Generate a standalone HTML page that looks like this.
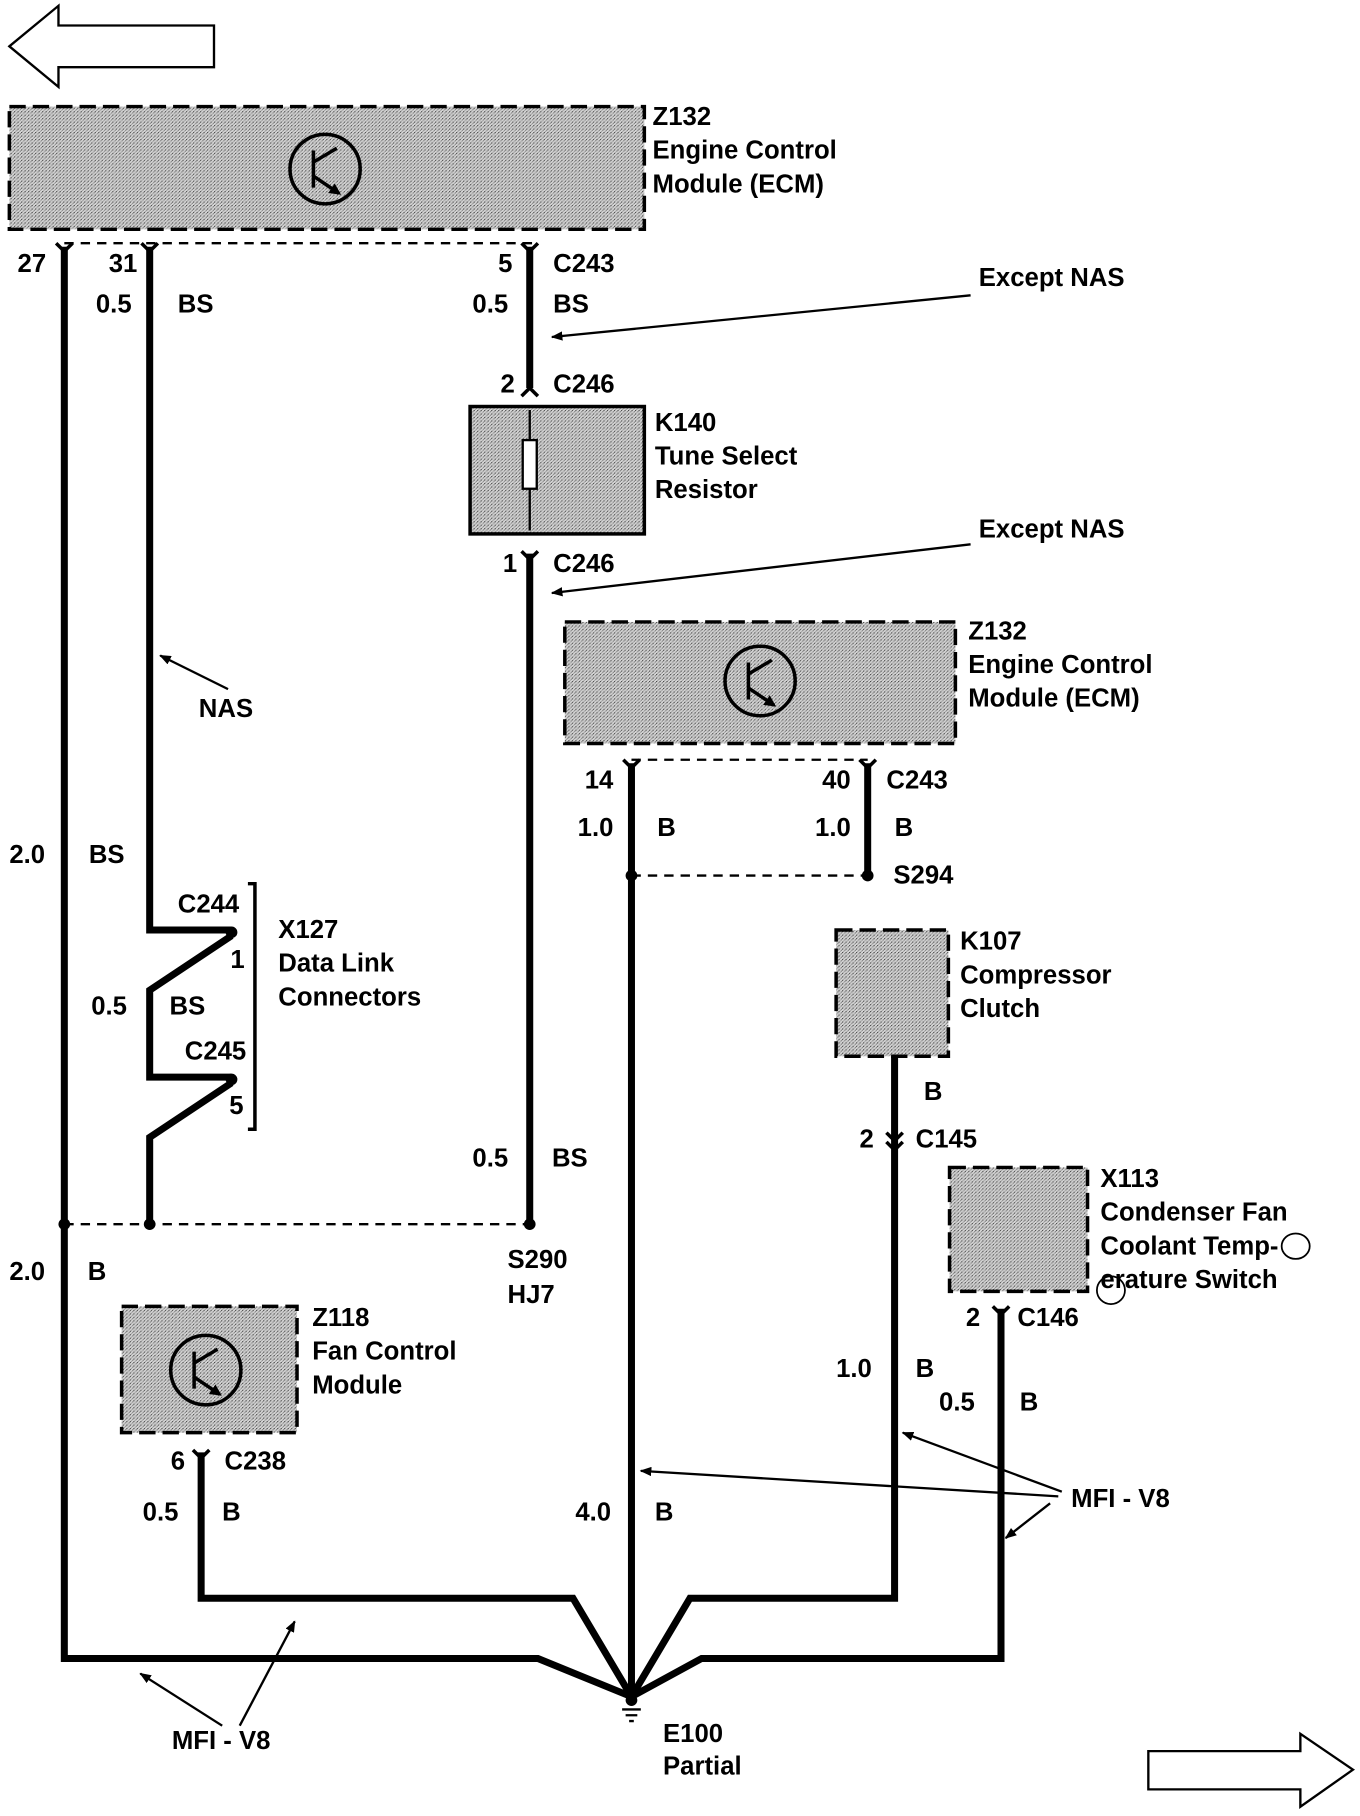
<!DOCTYPE html>
<html><head><meta charset="utf-8"><style>
html,body{margin:0;padding:0;background:#fff;}
svg{display:block;}
text{font-family:"Liberation Sans",sans-serif;font-weight:bold;font-size:22px;fill:#000;}
</style></head><body>
<svg width="1360" height="1816" viewBox="0 0 1163 1568" preserveAspectRatio="none" xmlns="http://www.w3.org/2000/svg">
<defs>
<pattern id="st" width="3" height="3" patternUnits="userSpaceOnUse"><rect width="3" height="3" fill="#d6d6d6"/><rect width="1" height="1" fill="#444"/><rect x="2" y="1" width="1" height="1" fill="#777"/><rect x="1" y="2" width="1" height="1" fill="#999"/></pattern>
<marker id="ah" markerWidth="10" markerHeight="8" refX="9" refY="4" orient="auto" markerUnits="userSpaceOnUse"><path d="M0,0 L10,4 L0,8 Z" fill="#000"/></marker>
<marker id="ta" markerWidth="10" markerHeight="10" refX="8" refY="5" orient="auto" markerUnits="userSpaceOnUse"><path d="M0,0 L10,5 L0,10 Z" fill="#000"/></marker>
</defs>
<path d="M8,40 L50,5 L50,22 L183,22 L183,58 L50,58 L50,75 Z" fill="#fff" stroke="#000" stroke-width="2"/>
<path d="M1157,1528 L1112,1497 L1112,1512 L982,1512 L982,1545 L1112,1545 L1112,1560 Z" fill="#fff" stroke="#000" stroke-width="2"/>

<rect x="8" y="92" width="543" height="106" fill="url(#st)" stroke="#000" stroke-width="3" stroke-dasharray="14,6"/>
<g fill="none" stroke="#000" stroke-width="3"><circle cx="278" cy="146" r="30"/><path d="M268,130 L268,162 M268,140 L288,128 M268,152 L290,167" marker-end="url(#ta)"/></g>
<text x="558" y="108">Z132</text><text x="558" y="137">Engine Control</text><text x="558" y="166">Module (ECM)</text>

<g stroke="#000" stroke-width="2" stroke-dasharray="8,6" fill="none">
<path d="M55,210 L455,210"/><path d="M540,656 L742,656"/><path d="M540,756 L742,756"/><path d="M55,1057 L453,1057"/>
</g>

<g stroke="#000" stroke-width="6" fill="none" stroke-linejoin="miter">
<path d="M55,213 L55,1432 L460,1432 L540,1465"/>
<path d="M128,213 L128,803 L198,803"/>
<path d="M198,808 L128,855 L128,930 L198,930"/>
<path d="M198,935 L128,982 L128,1057"/>
<path d="M453,213 L453,335"/>
<path d="M453,478 L453,1057"/>
<path d="M540,659 L540,1465"/>
<path d="M742,659 L742,756"/>
<path d="M172,1254 L172,1380 L490,1380 L540,1465"/>
<path d="M765,912 L765,1380 L590,1380 L540,1465"/>
<path d="M856,1130 L856,1432 L600,1432 L540,1465"/>
</g>
<g stroke="#000" stroke-width="3" fill="none">
<path d="M48,210 L55,217 L62,210"/><path d="M121,210 L128,217 L135,210"/><path d="M446,210 L453,217 L460,210"/>
<path d="M533,656 L540,663 L547,656"/><path d="M735,656 L742,663 L749,656"/>
<path d="M446,342 L453,335 L460,342"/><path d="M446,476 L453,483 L460,476"/>
<path d="M165,1252 L172,1259 L179,1252"/><path d="M849,1128 L856,1135 L863,1128"/>
<path d="M758,978 L765,985 L772,978 M758,986 L765,993 L772,986"/>
</g>
<g fill="#000"><circle cx="55" cy="1057" r="5"/><circle cx="128" cy="1057" r="5"/><circle cx="453" cy="1057" r="5"/><circle cx="540" cy="756" r="5"/><circle cx="742" cy="756" r="5"/><circle cx="198" cy="805" r="5"/><circle cx="198" cy="932" r="5"/><circle cx="540" cy="1468" r="5"/></g>
<g stroke="#000" stroke-width="2"><path d="M532,1476 L548,1476 M535,1481 L545,1481 M538,1486 L542,1486"/></g>

<rect x="402" y="351" width="149" height="110" fill="url(#st)" stroke="#000" stroke-width="3"/>
<g stroke="#000" stroke-width="2" fill="none"><path d="M453,354 L453,458"/><rect x="447" y="380" width="12" height="42" fill="#fff"/></g>
<text x="560" y="372">K140</text><text x="560" y="401">Tune Select</text><text x="560" y="430">Resistor</text>

<rect x="483" y="537" width="334" height="105" fill="url(#st)" stroke="#000" stroke-width="3" stroke-dasharray="14,6"/>
<g fill="none" stroke="#000" stroke-width="3"><circle cx="650" cy="588" r="30"/><path d="M640,572 L640,604 M640,582 L660,570 M640,594 L662,609" marker-end="url(#ta)"/></g>
<text x="828" y="552">Z132</text><text x="828" y="581">Engine Control</text><text x="828" y="610">Module (ECM)</text>

<rect x="104" y="1128" width="150" height="109" fill="url(#st)" stroke="#000" stroke-width="3" stroke-dasharray="14,6"/>
<g fill="none" stroke="#000" stroke-width="3"><circle cx="176" cy="1183" r="30"/><path d="M166,1167 L166,1199 M166,1177 L186,1165 M166,1189 L188,1204" marker-end="url(#ta)"/></g>
<text x="267" y="1145">Z118</text><text x="267" y="1174">Fan Control</text><text x="267" y="1203">Module</text>

<rect x="715" y="803" width="96" height="109" fill="url(#st)" stroke="#000" stroke-width="3" stroke-dasharray="14,6"/>
<text x="821" y="820">K107</text><text x="821" y="849">Compressor</text><text x="821" y="878">Clutch</text>

<rect x="812" y="1008" width="118" height="107" fill="url(#st)" stroke="#000" stroke-width="3" stroke-dasharray="14,6"/>
<text x="941" y="1025">X113</text><text x="941" y="1054">Condenser Fan</text><text x="941" y="1083">Coolant Temp-</text><text x="941" y="1112">erature Switch</text>
<g fill="none" stroke="#000" stroke-width="1.5"><ellipse cx="1108" cy="1076" rx="12" ry="11"/><ellipse cx="950" cy="1114" rx="12" ry="12"/></g>

<path d="M212,763 L218,763 L218,975 L212,975" fill="none" stroke="#000" stroke-width="3"/>
<text x="238" y="810">X127</text><text x="238" y="839">Data Link</text><text x="238" y="868">Connectors</text>

<text x="15" y="235">27</text><text x="93" y="235">31</text><text x="82" y="270">0.5</text><text x="152" y="270">BS</text>
<text x="426" y="235">5</text><text x="473" y="235">C243</text><text x="404" y="270">0.5</text><text x="473" y="270">BS</text>
<text x="428" y="339">2</text><text x="473" y="339">C246</text>
<text x="430" y="494">1</text><text x="473" y="494">C246</text>
<text x="837" y="247">Except NAS</text><text x="837" y="464">Except NAS</text>
<text x="500" y="681">14</text><text x="703" y="681">40</text><text x="758" y="681">C243</text>
<text x="494" y="722">1.0</text><text x="562" y="722">B</text><text x="697" y="722">1.0</text><text x="765" y="722">B</text>
<text x="764" y="763">S294</text>
<text x="170" y="619">NAS</text>
<text x="8" y="745">2.0</text><text x="76" y="745">BS</text>
<text x="152" y="788">C244</text><text x="197" y="836">1</text><text x="78" y="876">0.5</text><text x="145" y="876">BS</text>
<text x="158" y="915">C245</text><text x="196" y="962">5</text>
<text x="404" y="1007">0.5</text><text x="472" y="1007">BS</text>
<text x="434" y="1095">S290</text><text x="434" y="1125">HJ7</text>
<text x="8" y="1105">2.0</text><text x="75" y="1105">B</text>
<text x="146" y="1269">6</text><text x="192" y="1269">C238</text>
<text x="122" y="1313">0.5</text><text x="190" y="1313">B</text>
<text x="492" y="1313">4.0</text><text x="560" y="1313">B</text>
<text x="790" y="950">B</text><text x="735" y="991">2</text><text x="783" y="991">C145</text>
<text x="715" y="1189">1.0</text><text x="783" y="1189">B</text>
<text x="826" y="1145">2</text><text x="870" y="1145">C146</text>
<text x="803" y="1218">0.5</text><text x="872" y="1218">B</text>
<text x="916" y="1301">MFI - V8</text>
<text x="147" y="1510">MFI - V8</text>
<text x="567" y="1504">E100</text><text x="567" y="1532">Partial</text>

<g stroke="#000" stroke-width="2" fill="none" marker-end="url(#ah)">
<path d="M830,255 L472,291"/>
<path d="M830,470 L472,512"/>
<path d="M195,595 L137,566"/>
<path d="M908,1288 L772,1237"/>
<path d="M905,1292 L548,1270"/>
<path d="M898,1298 L860,1328"/>
<path d="M190,1490 L120,1445"/>
<path d="M205,1490 L252,1400"/>
</g>
</svg>
</body></html>
